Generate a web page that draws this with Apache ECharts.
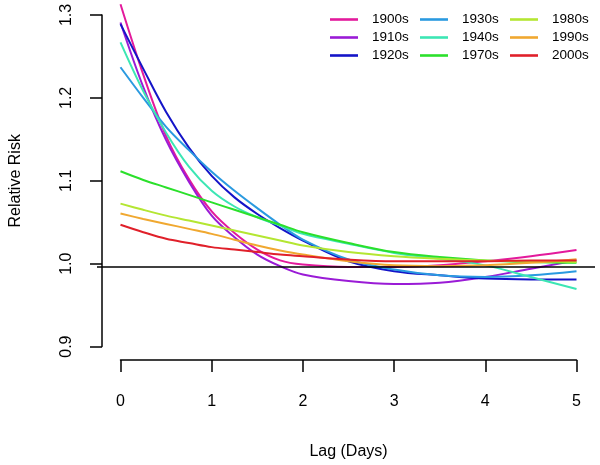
<!DOCTYPE html>
<html><head><meta charset="utf-8">
<script src="https://cdn.jsdelivr.net/npm/echarts@6/dist/echarts.min.js"></script>
<style>html,body{margin:0;padding:0;background:#fff}#c{width:600px;height:465px}</style>
</head><body><div id="c"></div>
<script>
// Lag (days) at which each curve value was read
const lags = [0, 0.25, 0.5, 0.75, 1, 1.25, 1.5, 1.75, 2, 2.5, 3, 3.5, 4, 4.5, 5];
const decades = ['1900s','1910s','1920s','1930s','1940s','1970s','1980s','1990s','2000s'];
const colors = ['#E31A9C','#9A1BD6','#1414C8','#2A9AE0','#3CE6B4','#2BE02B','#B4E632','#F0A830','#E0202A'];
const rr1900s = [1.313,1.228,1.154,1.102,1.063,1.037,1.017,1.004,0.999,0.996,0.996,0.998,1.003,1.009,1.0164];
const rr1910s = [1.291,1.213,1.149,1.099,1.058,1.032,1.011,0.997,0.987,0.979,0.9755,0.977,0.984,0.994,1.004];
const rr1920s = [1.289,1.235,1.183,1.140,1.106,1.080,1.060,1.043,1.028,1.003,0.991,0.986,0.982,0.981,0.981];
const rr1930s = [1.237,1.200,1.165,1.137,1.111,1.088,1.067,1.047,1.029,1.005,0.993,0.986,0.984,0.986,0.991];
const rr1940s = [1.267,1.208,1.158,1.117,1.088,1.069,1.056,1.046,1.036,1.024,1.013,1.006,0.998,0.984,0.9694];
const rr1970s = [1.1115,1.101,1.092,1.083,1.074,1.065,1.056,1.047,1.038,1.025,1.014,1.008,1.004,1.002,1.001];
const rr1980s = [1.0725,1.065,1.058,1.052,1.046,1.040,1.034,1.028,1.022,1.014,1.009,1.006,1.004,1.003,1.002];
const rr1990s = [1.0605,1.054,1.048,1.042,1.036,1.029,1.022,1.016,1.011,1.003,0.998,0.997,0.998,1.001,1.0053];
const rr2000s = [1.047,1.038,1.030,1.025,1.020,1.017,1.014,1.011,1.009,1.005,1.003,1.003,1.003,1.004,1.004];
const allSeries = [rr1900s, rr1910s, rr1920s, rr1930s, rr1940s, rr1970s, rr1980s, rr1990s, rr2000s];
const yTicks = [0.9, 1.0, 1.1, 1.2, 1.3];
const xTicks = [0, 1, 2, 3, 4, 5];

const FONT = 'Liberation Sans, Arial, Helvetica, sans-serif';
const chart = echarts.init(document.getElementById('c'), null, {renderer: 'canvas'});
const axisLineStyle = {color: '#000', width: 1.5};

const series = [{
  type: 'line', xAxisIndex: 1, yAxisIndex: 1, data: [], silent: true,
  markLine: {silent: true, symbol: 'none', label: {show: false},
    lineStyle: {color: '#000', width: 1.6, type: 'solid'},
    emphasis: {disabled: true}, data: [{yAxis: 1}]}
}];
allSeries.forEach((vals, i) => {
  series.push({
    name: decades[i], type: 'line', xAxisIndex: 0, yAxisIndex: 0,
    data: lags.map((x, j) => [x, vals[j]]),
    smooth: 0.35, symbol: 'none', clip: false, silent: true,
    lineStyle: {color: colors[i], width: 2}, itemStyle: {color: colors[i]}
  });
});

chart.setOption({
  animation: false,
  backgroundColor: '#fff',
  grid: [
    {left: 115.5, right: 23.5, top: 15, bottom: 115},
    {left: 97, right: 5, top: 15, bottom: 115}
  ],
  xAxis: [{
    type: 'value', gridIndex: 0, min: xTicks[0], max: xTicks[xTicks.length-1], interval: 1, offset: 13.4,
    axisLine: {onZero: false, lineStyle: axisLineStyle}, axisTick: {length: 12, lineStyle: axisLineStyle},
    splitLine: {show: false},
    axisLabel: {margin: 34, fontSize: 16, color: '#000', fontFamily: FONT},
    name: 'Lag (Days)', nameLocation: 'middle', nameGap: 84,
    nameTextStyle: {fontSize: 16, color: '#000', fontFamily: FONT}
  }, {
    type: 'value', gridIndex: 1, min: 0, max: 1, show: false
  }],
  yAxis: [{
    type: 'value', gridIndex: 0, min: yTicks[0], max: yTicks[yTicks.length-1], interval: 0.1, offset: 18.5,
    axisLine: {show: true, onZero: false, lineStyle: axisLineStyle}, axisTick: {show: true, length: 12, lineStyle: axisLineStyle},
    splitLine: {show: false},
    axisLabel: {rotate: 90, margin: 27, fontSize: 16, color: '#000', fontFamily: FONT,
      formatter: v => v.toFixed(1)},
    name: 'Relative Risk', nameLocation: 'middle', nameGap: 78, nameRotate: 90,
    nameTextStyle: {fontSize: 16, color: '#000', fontFamily: FONT}
  }, {
    type: 'value', gridIndex: 1, min: yTicks[0], max: yTicks[yTicks.length-1], show: false
  }],
  legend: [0, 1, 2].map(k => ({
    data: decades.slice(k * 3, k * 3 + 3),
    orient: 'vertical', left: [330, 420, 510][k], top: 12.5,
    itemWidth: 28, itemHeight: 14, itemGap: 4, padding: 0,
    icon: 'path://M0,0 L28,0 L28,2.6 L0,2.6 Z', symbolKeepAspect: true,
    selectedMode: false,
    textStyle: {fontSize: 13.5, color: '#000', fontFamily: FONT, padding: [0, 0, 0, 9]}
  })),
  series: series
});
</script>
</body></html>
